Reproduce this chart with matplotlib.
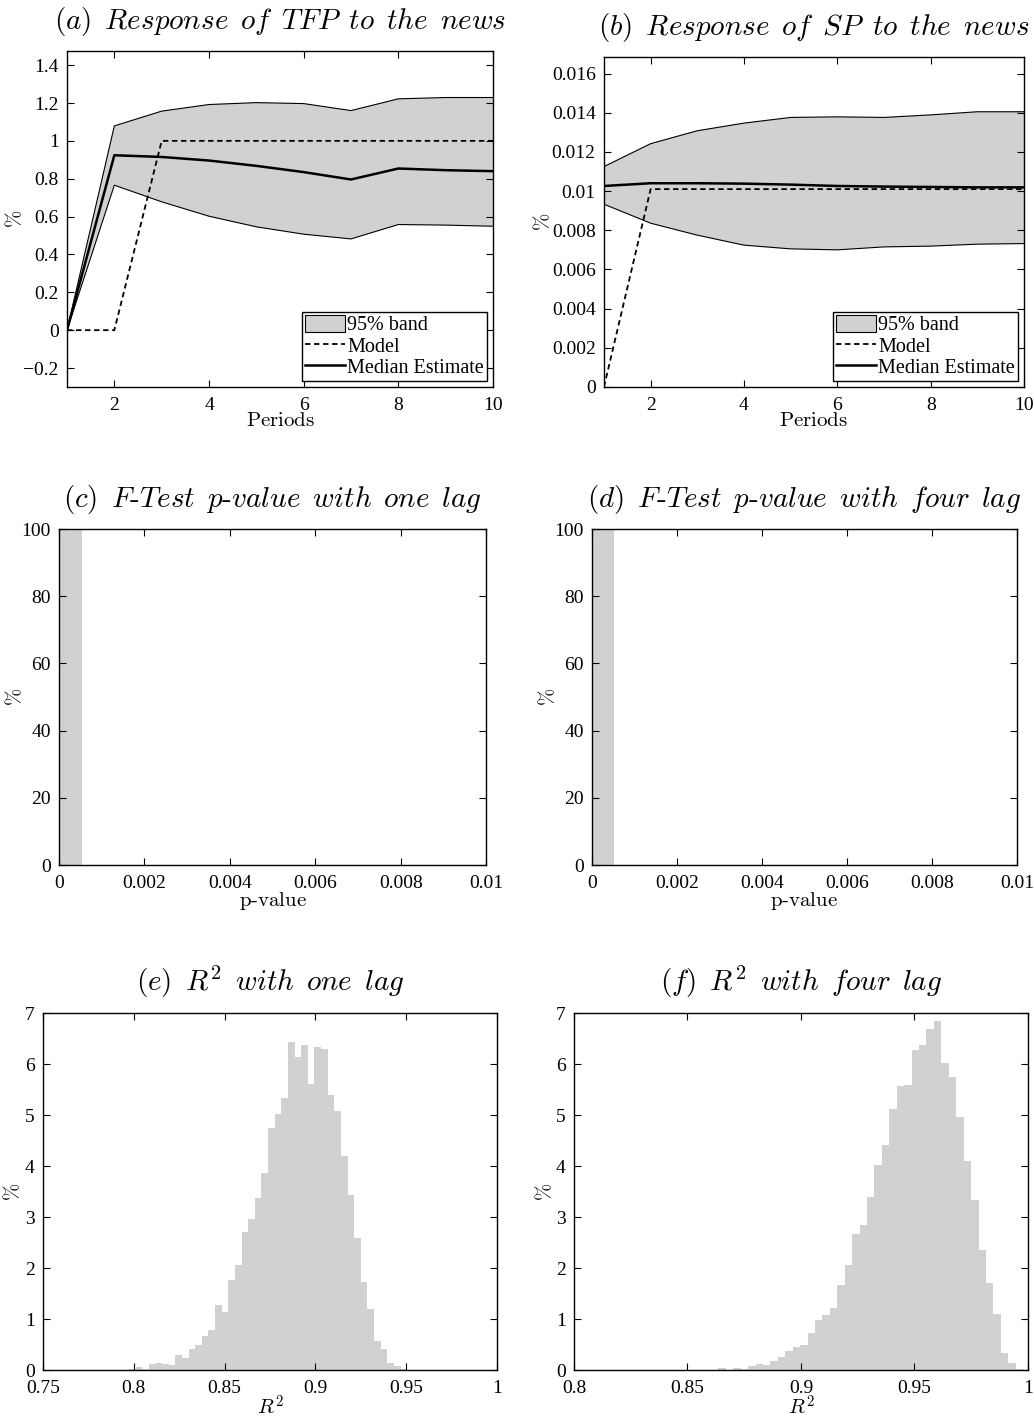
import numpy as np
import matplotlib
matplotlib.use("Agg")
import matplotlib.pyplot as plt
from matplotlib.patches import Patch
from matplotlib.lines import Line2D
from matplotlib.ticker import FuncFormatter, MultipleLocator

plt.rcParams['font.family'] = ['Liberation Serif', 'DejaVu Serif']
plt.rcParams['mathtext.fontset'] = 'cm'
plt.rcParams['font.size'] = 14

GRAY = '0.82'

# impulse responses, periods 1..10
periods = np.arange(1, 11)

tfp_upper = [0.0, 1.079, 1.157, 1.192, 1.202, 1.197, 1.160, 1.222, 1.229, 1.229]
tfp_lower = [0.0, 0.766, 0.678, 0.602, 0.546, 0.507, 0.482, 0.558, 0.555, 0.549]
tfp_median = [0.0, 0.924, 0.915, 0.896, 0.868, 0.835, 0.796, 0.854, 0.845, 0.840]
tfp_model = [0, 0, 1, 1, 1, 1, 1, 1, 1, 1]

sp_upper = [0.01125, 0.01242, 0.01308, 0.01347, 0.01376, 0.01379, 0.01376, 0.01389, 0.01405, 0.01405]
sp_lower = [0.00933, 0.00836, 0.00775, 0.00724, 0.00705, 0.00700, 0.00715, 0.00719, 0.00729, 0.00732]
sp_median = [0.01026, 0.01040, 0.01040, 0.01038, 0.01033, 0.01026, 0.01023, 0.01021, 0.01019, 0.01019]
sp_model = [0, 0.0101, 0.0101, 0.0101, 0.0101, 0.0101, 0.0101, 0.0101, 0.0101, 0.0101]

# F-test p-value histograms (one bin holds everything)
pval_edges = [0.0, 0.00053]
pval_one = [100]
pval_four = [100]

# R^2 histogram, one lag
r2_one_start = 0.78271
r2_one_width = 0.00365
r2_one = [0.005, 0.005, 0.01, 0.01, 0.02, 0.06, 0.03, 0.12, 0.14, 0.12,
          0.09, 0.29, 0.23, 0.41, 0.49, 0.66, 0.79, 1.28, 1.14, 1.76,
          2.06, 2.70, 2.96, 3.37, 3.86, 4.75, 5.02, 5.33, 6.43, 6.13,
          6.38, 5.60, 6.33, 6.29, 5.39, 5.08, 4.19, 3.44, 2.59, 1.72,
          1.20, 0.56, 0.41, 0.14, 0.08, 0.03]

# R^2 histogram, four lags
r2_four_start = 0.85379
r2_four_width = 0.003275
r2_four = [0.005, 0.005, 0.01, 0.04, 0.01, 0.04, 0.02, 0.08, 0.12, 0.09,
           0.18, 0.25, 0.38, 0.45, 0.49, 0.72, 0.99, 1.08, 1.21, 1.66,
           2.06, 2.66, 2.84, 3.39, 4.02, 4.41, 5.11, 5.57, 5.59, 6.27,
           6.37, 6.68, 6.84, 6.02, 5.74, 4.97, 4.10, 3.33, 2.36, 1.71,
           1.10, 0.34, 0.13, 0.03]

SP = r'\ \,'


def fmt(v, pos):
    return ('%g' % round(v, 10)).replace('-', '\u2212')


def style(ax, ylab_x):
    ax.tick_params(direction='in', top=True, right=True, length=5, width=0.8, labelsize=14, pad=6)
    ax.tick_params(axis='x', pad=7)
    for s in ax.spines.values():
        s.set_linewidth(1.0)
    ax.xaxis.set_major_formatter(FuncFormatter(fmt))
    ax.yaxis.set_major_formatter(FuncFormatter(fmt))
    ax.set_ylabel(r'$\%$', fontsize=15)
    ax.yaxis.set_label_coords(ylab_x, 0.5)


def title(ax, words, math=None):
    # words in cm italic, optional math piece after the panel letter
    if math is None:
        txt = r'$\mathit{' + SP.join(words) + '}$'
    else:
        txt = r'$\mathit{' + words[0] + '}' + SP + math + SP + r'\mathit{' + SP.join(words[1:]) + '}$'
    ax.set_title(txt, fontsize=21, pad=16)


def irf(ax, upper, lower, median, model):
    ax.fill_between(periods, lower, upper, facecolor=GRAY, edgecolor='none')
    ax.plot(periods, upper, color='k', lw=0.8)
    ax.plot(periods, lower, color='k', lw=0.8)
    ax.plot(periods, model, color='k', lw=1.3, ls=(0, (3, 2)))
    ax.plot(periods, median, color='k', lw=1.8)
    handles = [Patch(facecolor=GRAY, edgecolor='k', lw=0.8),
               Line2D([], [], color='k', lw=1.3, ls=(0, (3, 2))),
               Line2D([], [], color='k', lw=1.8)]
    leg = ax.legend(handles, ['95% band', 'Model', 'Median Estimate'], loc='lower right',
                    fancybox=False, framealpha=1, edgecolor='k', fontsize=14.5,
                    borderaxespad=0.3, borderpad=0.15, handlelength=2.0,
                    handletextpad=0.1, labelspacing=0.05, handleheight=0.9)
    leg.get_frame().set_linewidth(1.0)
    ax.set_xlim(1, 10)
    ax.xaxis.set_major_locator(MultipleLocator(2))
    ax.set_xlabel(r'$\mathrm{Periods}$', fontsize=15, labelpad=-1)


def hist(ax, start, width, heights):
    edges = start + width * np.arange(len(heights))
    ax.bar(edges, heights, width=width, align='edge', color=GRAY, linewidth=0)


fig = plt.figure(figsize=(10.34, 14.19), dpi=100)

ax_a = fig.add_axes([0.0648, 0.7273, 0.412, 0.2368])
ax_b = fig.add_axes([0.5841, 0.7273, 0.4062, 0.2326])
ax_c = fig.add_axes([0.0571, 0.3904, 0.413, 0.2368])
ax_d = fig.add_axes([0.5725, 0.3904, 0.411, 0.2368])
ax_e = fig.add_axes([0.0416, 0.0345, 0.439, 0.2516])
ax_f = fig.add_axes([0.5551, 0.0345, 0.439, 0.2516])

# (a)
irf(ax_a, tfp_upper, tfp_lower, tfp_median, tfp_model)
ax_a.set_ylim(-0.3, 1.475)
ax_a.yaxis.set_major_locator(MultipleLocator(0.2))
title(ax_a, ['(a)', 'Response', 'of', 'TFP', 'to', 'the', 'news'])

# (b)
irf(ax_b, sp_upper, sp_lower, sp_median, sp_model)
ax_b.set_ylim(0, 0.01685)
ax_b.yaxis.set_major_locator(MultipleLocator(0.002))
title(ax_b, ['(b)', 'Response', 'of', 'SP', 'to', 'the', 'news'])

# (c), (d)
for ax, vals, lab, n in [(ax_c, pval_one, '(c)', 'one'), (ax_d, pval_four, '(d)', 'four')]:
    ax.bar(pval_edges[:-1], vals, width=np.diff(pval_edges), align='edge', color=GRAY, linewidth=0)
    ax.set_xlim(0, 0.01)
    ax.set_ylim(0, 100)
    ax.xaxis.set_major_locator(MultipleLocator(0.002))
    ax.yaxis.set_major_locator(MultipleLocator(20))
    ax.set_xlabel(r'$\mathrm{p\text{-}value}$', fontsize=15, labelpad=-1)
    title(ax, [lab, r'F\text{-}Test', r'p\text{-}value', 'with', n, 'lag'])

# (e)
hist(ax_e, r2_one_start, r2_one_width, r2_one)
ax_e.set_xlim(0.75, 1)
ax_e.xaxis.set_major_locator(MultipleLocator(0.05))
title(ax_e, ['(e)', 'with', 'one', 'lag'], math='R^2')

# (f)
hist(ax_f, r2_four_start, r2_four_width, r2_four)
ax_f.set_xlim(0.8, 1)
ax_f.xaxis.set_major_locator(MultipleLocator(0.05))
title(ax_f, ['(f)', 'with', 'four', 'lag'], math='R^2')

for ax in [ax_e, ax_f]:
    ax.set_ylim(0, 7)
    ax.yaxis.set_major_locator(MultipleLocator(1))
    ax.set_xlabel(r'$R^2$', fontsize=15, labelpad=-1)

for ax, lx in [(ax_a, -0.096), (ax_b, -0.119), (ax_c, -0.077),
               (ax_d, -0.078), (ax_e, -0.042), (ax_f, -0.040)]:
    style(ax, lx)

fig.savefig('out.png', dpi=100)
